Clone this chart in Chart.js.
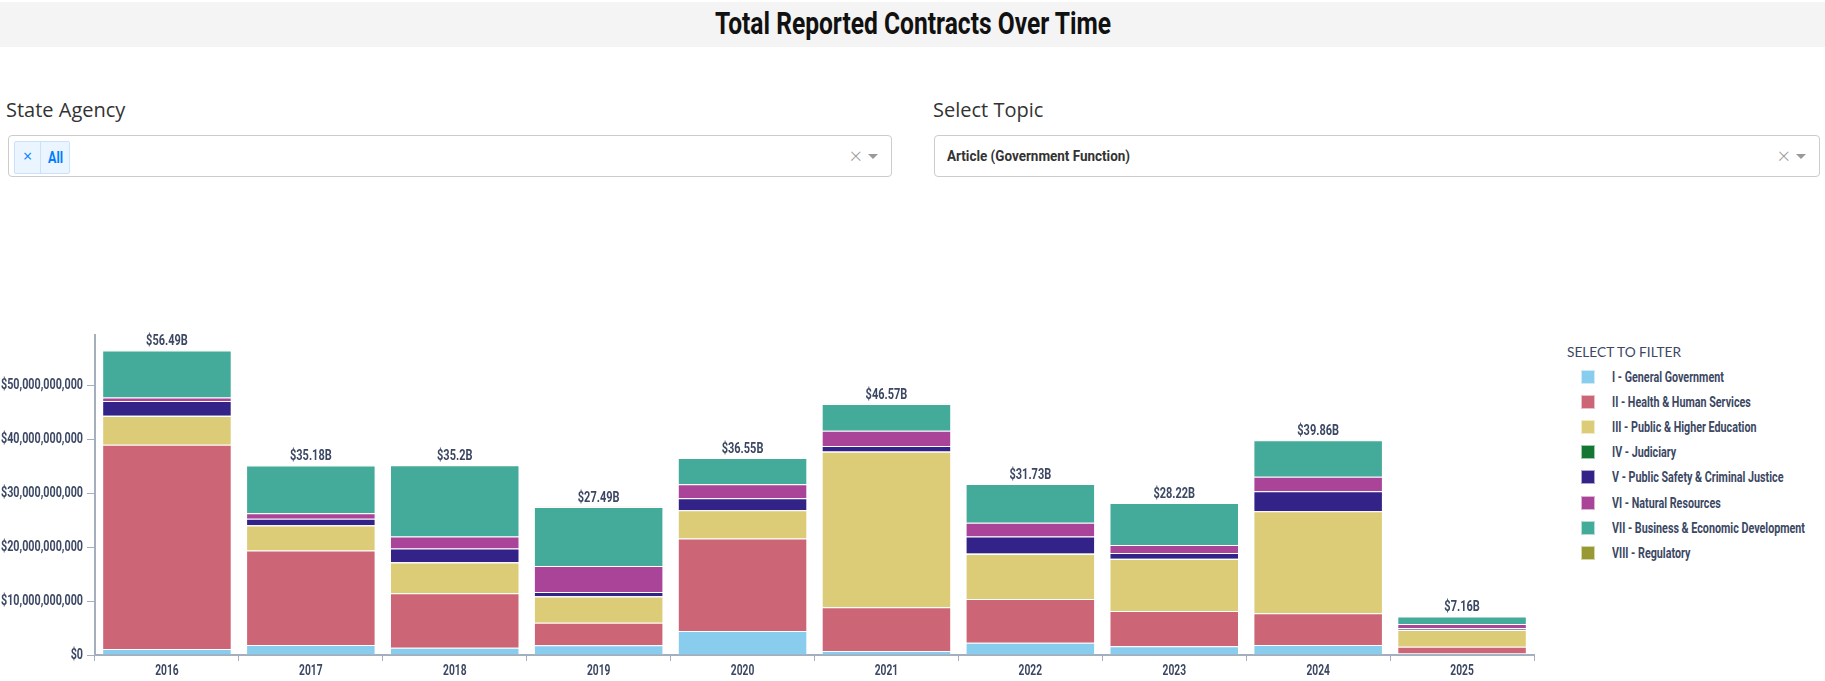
<!DOCTYPE html>
<html>
<head>
<meta charset="utf-8">
<script src="https://cdn.jsdelivr.net/npm/chart.js@4"></script>
<style>
  body { margin: 0; background: #fff; width: 1825px; height: 681px; position: relative; overflow: hidden; font-family: "Open Sans", sans-serif; }
  .barra { position: absolute; left: 0; top: 2px; width: 1825px; height: 45px; background: #f4f4f4; }
  .titulo { position: absolute; top: 4px; left: 0; white-space: nowrap; font-family: Roboto, sans-serif; font-weight: bold; font-size: 31px; line-height: 40px; color: #111; }
  .etiqueta { position: absolute; top: 96px; font-size: 20px; color: #333; }
  .caja { position: absolute; top: 135px; height: 42px; border: 1px solid #ccc; border-radius: 4px; background: #fff; box-sizing: border-box; }
  .tag { position: absolute; left: 5px; top: 5px; height: 33px; width: 56px; background: #ebf5ff; border: 1px solid #c9e2fb; border-radius: 2px; box-sizing: border-box; color: #007eff; }
  .tag .x { position: absolute; left: 0; top: 0; width: 25px; text-align: center; border-right: 1px solid #c9e2fb; height: 31px; line-height: 29px; font-size: 16px; }
  .tag .t { position: absolute; left: 33px; top: 0; line-height: 31px; font-family: Roboto, sans-serif; font-size: 16px; font-weight: bold; white-space: nowrap; }
  .clear { position: absolute; right: 29px; top: 6px; color: #999; font-size: 22px; line-height: 26px; font-weight: 300; }
  .flecha { position: absolute; right: 13px; top: 18px; width: 0; height: 0; border-left: 5px solid transparent; border-right: 5px solid transparent; border-top: 5px solid #999; }
  .valor { position: absolute; left: 12px; top: 10px; white-space: nowrap; font-family: Roboto, sans-serif; font-size: 15px; font-weight: bold; color: #333; line-height: 20px; }
  #lienzo { position: absolute; left: 0; top: 300px; }
  .cab { position: absolute; left: 1567px; top: 342px; white-space: nowrap; font-family: Lato, sans-serif; font-size: 14px; color: #3b4763; line-height: 20px; }
  .cuadro { position: absolute; left: 1581px; width: 14px; height: 14px; box-sizing: border-box; border: 1px solid rgba(255,255,255,0.6); }
  .nombre { position: absolute; left: 1612px; white-space: nowrap; font-family: Roboto, sans-serif; font-weight: bold; font-size: 15px; line-height: 20px; color: #3b4763; }
</style>
</head>
<body>
<div class="barra"></div>
<div class="titulo" id="titulo">Total Reported Contracts Over Time</div>

<div class="etiqueta" style="left:6px">State Agency</div>
<div class="caja" style="left:8px; width:884px">
  <div class="tag"><span class="x">×</span><span class="t" id="todo">All</span></div>
  <div class="clear">×</div><div class="flecha"></div>
</div>

<div class="etiqueta" style="left:933px">Select Topic</div>
<div class="caja" style="left:934px; width:886px">
  <div class="valor" id="tema">Article (Government Function)</div>
  <div class="clear">×</div><div class="flecha"></div>
</div>

<canvas id="lienzo" width="1545" height="381"></canvas>
<div id="leyenda"></div>

<script>
const anios = ["2016", "2017", "2018", "2019", "2020", "2021", "2022", "2023", "2024", "2025"];

const series = [
  "I - General Government",
  "II - Health & Human Services",
  "III - Public & Higher Education",
  "IV - Judiciary",
  "V - Public Safety & Criminal Justice",
  "VI - Natural Resources",
  "VII - Business & Economic Development",
  "VIII - Regulatory"
];

const colores = ["#88CCEE", "#CC6677", "#DDCC77", "#117733", "#332288", "#AA4499", "#44AA99", "#999933"];

// miles de millones de dolares
const general     = [1.11, 1.86, 1.36, 1.79, 4.45, 0.74, 2.28, 1.61, 1.86, 0.30];
const salud       = [37.85, 17.50, 10.08, 4.21, 17.13, 8.11, 8.11, 6.55, 5.87, 1.24];
const educacion   = [5.32, 4.63, 5.69, 4.82, 5.26, 28.81, 8.35, 9.65, 18.93, 3.10];
const judicial    = [0.05, 0.05, 0.05, 0.05, 0.05, 0.05, 0.05, 0.05, 0.05, 0.02];
const seguridad   = [2.74, 1.19, 2.55, 0.82, 2.18, 1.01, 3.16, 1.06, 3.66, 0.34];
const naturales   = [0.67, 1.05, 2.22, 4.82, 2.60, 2.84, 2.54, 1.49, 2.65, 0.75];
const negocios    = [8.70, 8.85, 13.20, 10.93, 4.83, 4.96, 7.19, 7.76, 6.79, 1.39];
const regulatorio = [0.05, 0.05, 0.05, 0.05, 0.05, 0.05, 0.05, 0.05, 0.05, 0.02];

const yTicks = [0, 10e9, 20e9, 30e9, 40e9, 50e9];
const yMax = 59.31e9;

const valores = [general, salud, educacion, judicial, seguridad, naturales, negocios, regulatorio];

const colorTexto = '#3b4763';
const colorEje = '#a4afbd';

// estrecha un texto html a un ancho dado (la fuente original es condensada)
function estrechar(el, ancho, centro) {
  const w = el.getBoundingClientRect().width;
  const k = ancho / w;
  el.style.transformOrigin = 'left center';
  el.style.transform = `scaleX(${k})`;
  if (centro !== undefined) el.style.left = (centro - ancho / 2) + 'px';
  return k;
}

estrechar(document.getElementById('titulo'), 396, 913);
estrechar(document.getElementById('todo'), 15);
estrechar(document.getElementById('tema'), 183);

// leyenda
const leyenda = document.getElementById('leyenda');
let html = '<div class="cab" id="cab">SELECT TO FILTER</div>';
series.forEach((s, i) => {
  const cy = 376.5 + i * 25.24;
  html += `<div class="cuadro" style="top:${cy - 7}px;background:${colores[i]}"></div>`;
  html += `<div class="nombre" style="top:${cy - 10}px">${s.replace(/&/g, '&amp;')}</div>`;
});
leyenda.innerHTML = html;
estrechar(document.getElementById('cab'), 114);
const nombres = leyenda.querySelectorAll('.nombre');
const kLey = 193 / nombres[6].getBoundingClientRect().width;
nombres.forEach(n => { n.style.transformOrigin = 'left center'; n.style.transform = `scaleX(${kLey})`; });

// textos del grafico en letra condensada: ticks y totales
function textoEstrecho(c, texto, x, y, k) {
  c.save();
  c.translate(x, y);
  c.scale(k, 1);
  c.fillText(texto, 0, 0);
  c.restore();
}

const textos = {
  id: 'textos',
  afterDraw(chart) {
    const c = chart.ctx;
    const sx = chart.scales.x, sy = chart.scales.y;
    c.save();
    c.fillStyle = colorTexto;
    c.font = 'bold 15px Roboto';

    // eje y
    const ky = 82 / c.measureText('$50,000,000,000').width;
    c.textAlign = 'right';
    c.textBaseline = 'middle';
    sy.ticks.forEach(t => {
      textoEstrecho(c, '$' + t.value.toLocaleString('en-US'), sy.right - 12, sy.getPixelForValue(t.value), ky);
    });

    // eje x
    const kx = 23.5 / c.measureText('2016').width;
    c.textAlign = 'center';
    c.textBaseline = 'middle';
    anios.forEach((a, i) => {
      textoEstrecho(c, a, sx.getPixelForValue(i), sx.top + 16.5, kx);
    });

    // totales
    const kt = 41.7 / c.measureText('$56.49B').width;
    c.textBaseline = 'alphabetic';
    anios.forEach((a, i) => {
      let total = 0;
      chart.data.datasets.forEach(d => total += d.data[i]);
      const y = sy.getPixelForValue(total);
      textoEstrecho(c, '$' + parseFloat((total / 1e9).toFixed(2)) + 'B', sx.getPixelForValue(i), y - 5, kt);
    });
    c.restore();
  }
};

const ctx = document.getElementById('lienzo').getContext('2d');
new Chart(ctx, {
  type: 'bar',
  data: {
    labels: anios,
    datasets: series.map((s, i) => ({
      label: s,
      data: valores[i].map(v => v * 1e9),
      backgroundColor: colores[i],
      borderColor: 'rgba(255,255,255,0.55)',
      borderWidth: 1,
      categoryPercentage: 0.9,
      barPercentage: 1.0
    }))
  },
  options: {
    responsive: false,
    animation: false,
    layout: { padding: { top: 35, right: 11, left: 0, bottom: 0 } },
    plugins: {
      legend: { display: false },
      tooltip: { enabled: false }
    },
    scales: {
      x: {
        stacked: true,
        afterFit(scale) { scale.height = 26; },
        grid: { display: true, drawOnChartArea: false, drawTicks: true, tickLength: 6, color: colorEje, offset: true },
        border: { display: true, color: colorEje, width: 2 },
        ticks: { display: false }
      },
      y: {
        stacked: true,
        min: 0,
        max: yMax,
        afterFit(scale) { scale.width = 95; },
        afterBuildTicks(scale) { scale.ticks = yTicks.map(v => ({ value: v })); },
        grid: { display: true, drawOnChartArea: false, drawTicks: true, tickLength: 8, color: colorEje },
        border: { display: true, color: colorEje, width: 2 },
        ticks: { display: false }
      }
    }
  },
  plugins: [textos]
});
</script>
</body>
</html>
